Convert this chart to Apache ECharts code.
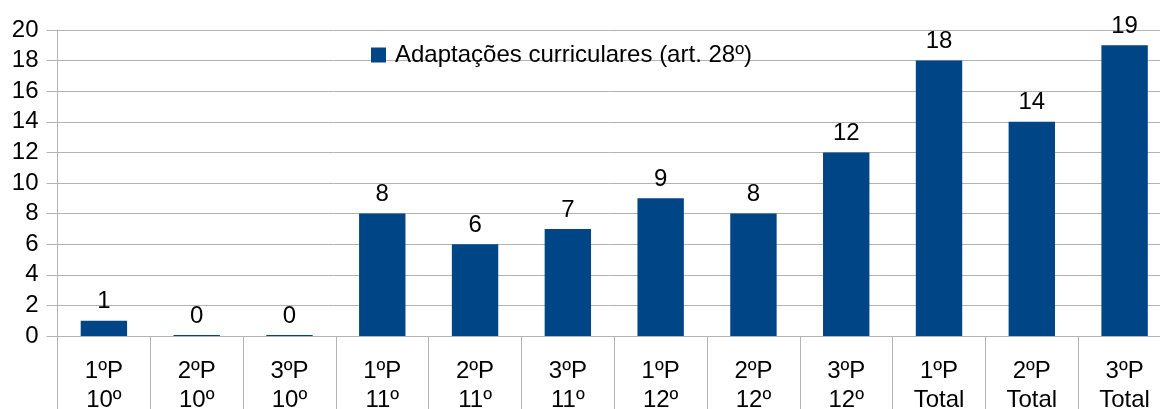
<!DOCTYPE html>
<html><head><meta charset="utf-8">
<script src="https://cdn.jsdelivr.net/npm/echarts@6/dist/echarts.min.js"></script>
<style>html,body{margin:0;padding:0;background:#fff}#c{width:1160px;height:409px}</style>
</head><body><div id="c"></div>
<script>
const categories = ["1ºP\n10º","2ºP\n10º","3ºP\n10º","1ºP\n11º","2ºP\n11º","3ºP\n11º","1ºP\n12º","2ºP\n12º","3ºP\n12º","1ºP\nTotal","2ºP\nTotal","3ºP\nTotal"];
const values = [1,0,0,8,6,7,9,8,12,18,14,19];
const seriesName = "Adaptações curriculares (art. 28º)";
const chart = echarts.init(document.getElementById('c'), null, {renderer:'canvas'});
const font = "'Liberation Sans', Arial, sans-serif";
chart.setOption({
  animation:false,
  textStyle:{fontFamily:font},
  grid:{left:57.5, top:30, bottom:73, right:-11, containLabel:false, outerBoundsMode:'none'},
  legend:{
    data:[seriesName], left:371, top:43, padding:0, itemWidth:15, itemHeight:15,
    icon:'rect', textStyle:{fontSize:24, color:'#000', fontFamily:font, padding:[0,0,0,4]}
  },
  xAxis:{
    type:'category', data:categories,
    axisLine:{lineStyle:{color:'#b3b3b3'}},
    axisTick:{show:true, length:73, lineStyle:{color:'#b3b3b3'}},
    axisLabel:{fontSize:24, color:'#000', lineHeight:29, margin:21, interval:0, fontFamily:font}
  },
  yAxis:{
    type:'value', min:0, max:20, interval:2,
    axisLine:{show:true, lineStyle:{color:'#b3b3b3'}},
    axisTick:{show:true, length:11, lineStyle:{color:'#b3b3b3'}},
    splitLine:{lineStyle:{color:'#b3b3b3'}},
    axisLabel:{fontSize:24, color:'#000', margin:19, fontFamily:font}
  },
  series:[{
    name:seriesName, type:'bar', data:values, barWidth:'50%', barMinHeight:1,
    itemStyle:{color:'#004586'},
    label:{show:true, position:'top', distance:7, fontSize:24, color:'#000', fontFamily:font}
  }]
});
</script></body></html>
